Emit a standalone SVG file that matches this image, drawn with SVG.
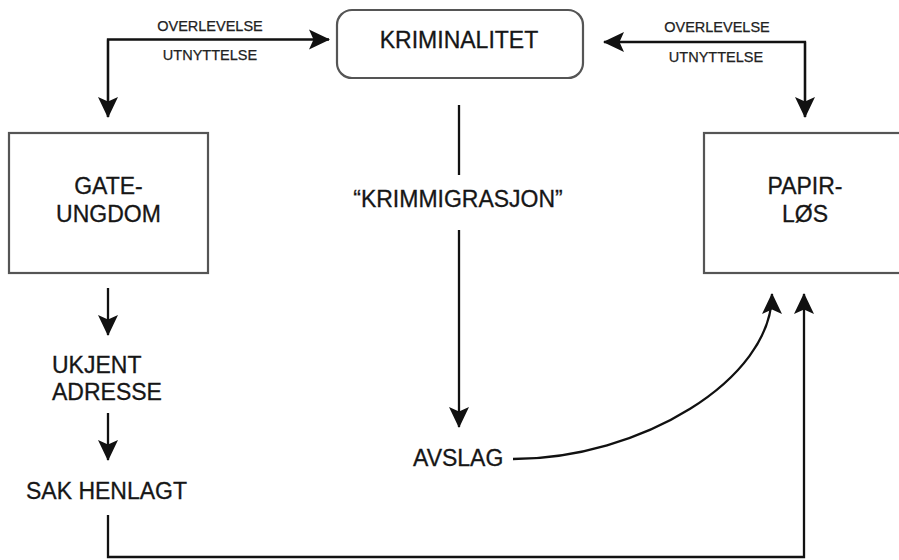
<svg xmlns="http://www.w3.org/2000/svg" width="899" height="560" viewBox="0 0 899 560">
  <style>
    .box { fill: #ffffff; stroke: #555555; stroke-width: 2.2; }
    .t { font-family: "Liberation Sans", Arial, sans-serif; font-size: 23px; fill: #161616; stroke: #161616; stroke-width: 0.3; }
    .s { font-family: "Liberation Sans", Arial, sans-serif; font-size: 14.5px; fill: #222222; stroke: #222222; stroke-width: 0.25; }
    .c { text-anchor: middle; }
    .ln { fill: none; stroke: #111111; stroke-width: 2.3; }
  </style>
  <defs>
    <marker id="ah" markerUnits="userSpaceOnUse" viewBox="0 0 21 21" markerWidth="21" markerHeight="21" refX="20" refY="10.5" orient="auto">
      <path d="M0,0.5 L21,10.5 L0,20.5 L4.5,10.5 Z" fill="#111111"/>
    </marker>
  </defs>
  <rect width="899" height="560" fill="#ffffff"/>

  <g id="kriminalitet">
    <rect class="box" x="337" y="10" width="246" height="68" rx="15" ry="15"/>
    <text class="t c" x="459" y="48">KRIMINALITET</text>
  </g>

  <g id="gateungdom">
    <rect class="box" x="9" y="133" width="199" height="140"/>
    <text class="t c" x="108.5" y="194">GATE-</text>
    <text class="t c" x="108.5" y="222">UNGDOM</text>
  </g>

  <g id="papirlos">
    <rect class="box" x="704" y="133" width="202" height="140"/>
    <text class="t c" x="805" y="194">PAPIR-</text>
    <text class="t c" x="805" y="222">LØS</text>
  </g>

  <g id="krimmigrasjon">
    <text class="t c" x="458" y="207">“KRIMMIGRASJON”</text>
  </g>

  <g id="ukjent-adresse">
    <text class="t" x="52" y="373">UKJENT</text>
    <text class="t" x="52" y="400">ADRESSE</text>
  </g>

  <g id="sak-henlagt">
    <text class="t" x="26" y="499">SAK HENLAGT</text>
  </g>

  <g id="avslag">
    <text class="t" x="413" y="466">AVSLAG</text>
  </g>

  <g id="connectors">
    <path class="ln" d="M108,117 V39.5 H329" marker-end="url(#ah)"/>
    <path class="ln" d="M108,39.5 V117" marker-end="url(#ah)"/>
    <text class="s c" x="210" y="31">OVERLEVELSE</text>
    <text class="s c" x="210" y="60">UTNYTTELSE</text>

    <path class="ln" d="M805,117 V42 H604" marker-end="url(#ah)"/>
    <path class="ln" d="M805,42 V117" marker-end="url(#ah)"/>
    <text class="s c" x="717" y="32">OVERLEVELSE</text>
    <text class="s c" x="716" y="62">UTNYTTELSE</text>

    <path class="ln" d="M459,105 V175"/>
    <path class="ln" d="M459,230 V427" marker-end="url(#ah)"/>

    <path class="ln" d="M108,288 V335" marker-end="url(#ah)"/>
    <path class="ln" d="M108,413 V460" marker-end="url(#ah)"/>

    <path class="ln" d="M513,459 C640,459 772,380 772,294" marker-end="url(#ah)"/>
    <path class="ln" d="M108,515 V557 H804 V294" marker-end="url(#ah)"/>
  </g>
</svg>
